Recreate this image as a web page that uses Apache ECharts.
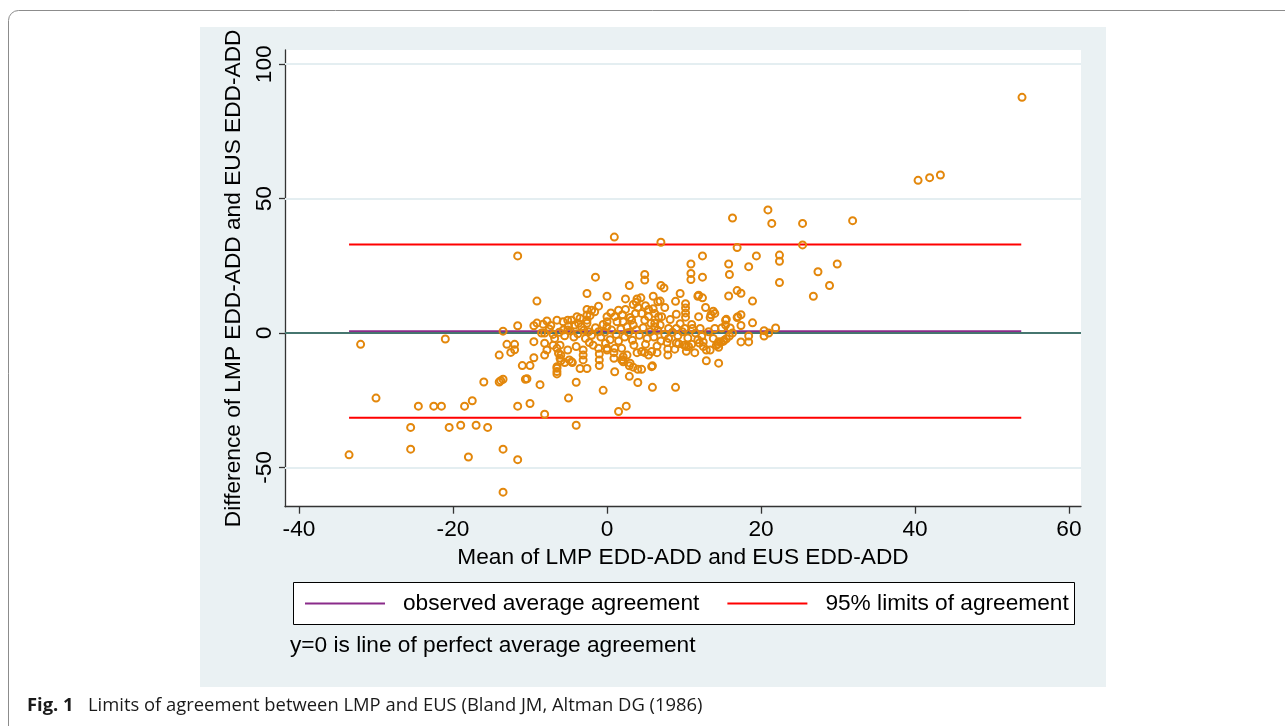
<!DOCTYPE html>
<html>
<head>
<meta charset="utf-8">
<script src="https://cdn.jsdelivr.net/npm/echarts@6/dist/echarts.min.js"></script>
<style>
html,body{margin:0;padding:0;background:#fff;}
#chart{width:1285px;height:726px;}
</style>
</head>
<body>
<div id="chart"></div>
<script>
// ---- data ----
const xTicks = [-40, -20, 0, 20, 40, 60];
const yTicks = [-50, 0, 50, 100];
const yGridValues = [-50, 50, 100];
const xTitle = 'Mean of LMP EDD-ADD and EUS EDD-ADD';
const yTitle = 'Difference of LMP EDD-ADD and EUS EDD-ADD';
const legendNames = ['observed average agreement', '95% limits of agreement'];
const noteText = 'y=0 is line of perfect average agreement';
const captionBold = 'Fig. 1';
const captionText = 'Limits of agreement between LMP and EUS (Bland JM, Altman DG (1986)';

const meanDiff = 0.7;
const upperLoA = 32.9;
const lowerLoA = -31.5;
const lineXRange = [-33.5, 53.8];

// mean of the two measurements (x) and their difference (y)
const meanVals = [
 -33.5,-32.0,-30.0,-25.5,-25.5,-24.5,-22.5,-21.5,-21.0,-20.5,-19.0,-18.5,-18.0,-17.5,-17.0,-16.0,-15.5,
 -14.0,-14.0,-13.8,-13.5,-13.5,-13.5,-13.5,-13.0,-12.0,-12.5,-12.0,-11.6,-11.6,-11.6,-11.6,-11.0,-10.0,
 -10.6,-10.4,-10.0,-9.5,-9.1,-9.5,-9.5,-9.1,-8.7,-8.1,-4.0,1.5,2.5,-0.5,5.9,8.9,-5.0,-4.0,2.9,-3.5,-2.6,
 -6.5,-6.5,-6.0,-6.0,-5.5,-4.5,-1.0,-1.0,-1.0,1.9,2.9,3.4,4.0,4.5,5.9,1.0,3.9,4.9,6.5,7.9,7.9,11.4,12.9,
 14.5,4.0,9.0,10.0,10.6,11.0,12.0,12.5,0.0,-3.1,-3.1,-3.1,-7.8,-8.1,-8.1,-7.0,0.9,0.9,2.6,2.1,
 0.95,7.0,12.4,10.9,10.9,10.9,4.9,4.9,-1.5,12.4,2.9,7.0,7.4,-2.6,0.0,2.4,3.9,4.4,3.4,3.8,6.0,6.9,9.5,8.9,
 11.8,12.4,10.2,10.2,10.2,10.2,15.8,15.8,16.3,20.9,21.4,25.4,31.9,25.4,16.9,19.4,22.4,22.4,18.4,29.9,27.4,
 15.9,22.4,28.9,26.8,16.9,17.4,18.9,13.8,14.0,13.5,13.4,17.4,16.9,18.9,17.4,15.5,14.9,16.0,21.9,20.4,21.0,
 20.4,18.4,18.4,17.4,16.3,15.9,15.5,15.2,14.8,14.4,14.2,12.5,12.9,14.5,14.5,40.4,41.9,43.3,53.9,11.9,11.9,
 15.4,15.4,17.0,8.0,9.0,10.1,11.1,12.1,6.2,6.7,7.1,6.2,6.9,14.0,2.4,3.7,4.5,5.4,6.6,-2.6,-2.6,-2.6,-2.6,
 -2.0,-1.1,-1.6,0.0,0.0,0.0,1.0,1.3,-3.9,-4.6,-5.1,-5.7,-6.5,-4.2,-3.7,-3.3,2.1,3.2,3.4,2.6,4.9,5.7,5.4,
 6.2,-5.7,-5.1,-2.4,-1.1,0.6,-6.8,-6.1,-6.5,-6.3,-6.1,-6.5,-6.5,-5.1,-4.9,-4.6,-1.1,-1.8,0.0,1.0,1.9,2.1,
 2.1,3.0,4.5,5.8,5.4,5.8,
 -8.5,-7.5,-7.0,-6.2,-5.5,-4.8,-4.3,-3.8,-3.0,-2.8,-2.0,-1.5,-0.8,-0.3,0.4,1.2,1.8,2.3,2.8,3.3,3.8,4.2,
 4.7,5.2,5.6,6.1,6.6,7.0,7.5,8.0,8.5,9.2,9.8,10.5,11.5,12.3,13.2,13.8,-7.8,-8.3,-5.0,-3.5,-2.2,-0.5,0.5,
 1.5,2.0,3.0,4.0,5.0,6.0,7.5,8.2,9.0,9.5,11.0,12.8,-7.3,-4.0,-2.3,-0.2,1.5,3.5,5.0,6.5,7.8,8.8,10.3,11.8,
 -8.1,9.3,10.3,13.4,15.1
];
const diffVals = [
 -45.3,-4.2,-24.2,-35.1,-43.2,-27.2,-27.2,-27.2,-2.2,-35.1,-34.3,-27.2,-46.1,-25.2,-34.3,-18.2,-35.1,
 -8.2,-18.2,-17.7,-17.2,-43.2,-59.2,0.7,-4.2,-4.2,-7.2,-6.2,28.7,2.7,-27.2,-47.1,-12.1,-12.1,
 -17.2,-17.0,-26.2,2.7,3.7,-3.2,-9.2,11.9,-19.2,-30.2,-34.3,-29.2,-27.2,-21.3,-20.2,-20.2,-24.2,-18.3,-16.1,-13.2,-13.2,
 -13.1,-15.2,-8.2,-10.3,-11.0,-11.0,-7.8,-10.0,-12.1,-10.0,-12.2,-12.7,-13.5,-13.5,-12.2,-14.4,-7.3,-7.3,-7.3,-5.9,-8.2,-7.3,-10.3,
 -11.2,-18.4,-3.7,-4.5,-5.0,-4.2,-3.7,-5.0,-6.3,-10.0,-8.2,-6.3,-6.3,-8.2,-3.8,-4.5,-7.3,-9.4,-8.2,-10.0,
 35.7,33.8,28.7,25.7,22.2,19.9,21.8,19.7,20.8,20.8,17.7,17.7,16.8,14.7,13.7,12.7,12.7,13.1,10.6,11.5,13.7,11.9,14.7,11.8,
 13.7,13.1,10.9,9.3,7.5,5.9,25.7,13.8,42.8,45.8,40.8,40.8,41.8,32.8,31.8,28.7,29.0,26.7,24.7,25.7,22.8,
 21.8,18.8,17.7,13.7,15.8,14.8,11.9,8.1,7.3,6.8,5.8,6.8,5.8,3.8,2.8,5.1,1.9,1.9,1.9,0.9,0.0,
 -1.1,-1.1,-3.3,-3.3,0.0,-1.1,-2.1,-2.7,-3.3,-4.1,-4.6,-3.3,-6.3,-5.3,-3.2,56.8,57.8,58.8,87.7,14.1,6.1,
 4.8,3.0,6.1,1.7,1.7,1.7,1.7,1.7,7.3,6.1,6.1,3.6,3.0,1.7,8.8,7.3,7.3,8.8,11.6,8.8,6.7,4.8,3.6,
 8.5,10.0,7.9,6.1,4.2,2.3,6.1,4.2,6.1,4.8,4.8,4.2,4.8,3.0,3.6,2.3,4.2,4.8,3.0,2.3,4.8,3.6,6.1,
 2.3,1.1,1.1,0.5,0.5,1.1,-2.0,-4.5,-5.7,-7.5,-9.4,-12.5,-14.3,-6.3,-10.0,-10.7,-5.7,-4.5,-5.7,-5.7,-5.7,-8.8,
 -10.7,-11.2,-6.9,-6.9,-8.2,-12.5,
 0.0,1.5,-0.5,0.3,-1.0,0.8,-1.5,-0.3,1.0,-2.0,-0.8,2.0,-1.5,0.3,-2.5,-0.5,1.5,-1.5,0.2,-2.7,1.2,-0.8,
 2.0,-2.0,0.5,-1.5,1.0,-3.0,-0.5,-2.0,0.3,-1.0,0.5,-1.8,0.0,-1.2,0.5,-2.0,4.5,3.3,2.7,5.5,6.5,3.2,7.5,
 8.5,6.8,5.8,9.5,10.2,9.0,9.5,5.0,7.0,3.5,3.2,9.5,2.8,-5.0,-3.5,-3.8,-3.0,-4.5,-4.2,-4.8,-3.5,-6.0,-6.8,-2.5,
 0.0,-4.0,-5.0,-6.3,-3.1
];

// ---- chart ----
const FONT = '"Liberation Sans", Arial, sans-serif';
const points = meanVals.map((m, i) => [m, diffVals[i]]);
const txt = { color: '#000', fontFamily: FONT, fontSize: 22.7 };

const chart = echarts.init(document.getElementById('chart'), null, { renderer: 'canvas' });
chart.setOption({
  animation: false,
  backgroundColor: '#fff',
  graphic: [
    { type: 'rect', z: -20, shape: { x: 8.5, y: 10.5, width: 1400, height: 800, r: 10 },
      style: { fill: '#fff', stroke: '#8c8c8c', lineWidth: 1 } },
    { type: 'rect', z: -10, shape: { x: 200, y: 27, width: 906, height: 660 },
      style: { fill: '#eaf1f3' } },
    { type: 'rect', z: 1, shape: { x: 293.5, y: 582.5, width: 781, height: 42 },
      style: { fill: '#fff', stroke: '#000', lineWidth: 1 } },
    { type: 'text', z: 5, left: 290, top: 634,
      style: { text: noteText, fill: '#000', font: '22.7px ' + FONT } },
    { type: 'text', z: 5, left: 27, top: 697,
      style: { text: captionBold, fill: '#1a1a1a', font: 'bold 18.4px "Open Sans", sans-serif' } },
    { type: 'text', z: 5, left: 88, top: 697,
      style: { text: captionText, fill: '#1a1a1a', font: '18.4px "Open Sans", sans-serif' } }
  ],
  grid: { left: 285, top: 50, width: 796, height: 456.7, show: true, backgroundColor: '#fff', borderWidth: 0 },
  legend: {
    left: 305, top: 592, z: 10, padding: 0, icon: 'rect', itemWidth: 80, itemHeight: 2, itemGap: 28,
    selectedMode: false, data: legendNames,
    textStyle: Object.assign({ padding: [0, 0, 0, 13] }, txt)
  },
  xAxis: {
    type: 'value', min: -41.82, max: 61.56,
    name: xTitle, nameLocation: 'middle', nameGap: 38, nameTextStyle: txt,
    axisLine: { show: true, onZero: false, lineStyle: { color: '#333', width: 1.3 } },
    axisTick: { show: true, length: 7, customValues: xTicks, lineStyle: { color: '#333', width: 1.3 } },
    axisLabel: Object.assign({ customValues: xTicks, margin: 12 }, txt),
    splitLine: { show: false }
  },
  yAxis: {
    type: 'value', min: -64.6, max: 105.3,
    name: yTitle, nameLocation: 'middle', nameGap: 36, nameRotate: 90, nameTextStyle: txt,
    axisLine: { show: true, onZero: false, lineStyle: { color: '#333', width: 1.3 } },
    axisTick: { show: true, length: 6, customValues: yTicks, lineStyle: { color: '#333', width: 1.3 } },
    axisLabel: Object.assign({ customValues: yTicks, margin: 9, rotate: 90 }, txt),
    splitLine: { show: false }
  },
  series: [
    {
      type: 'line', name: 'grid', data: [], silent: true, z: 1,
      markLine: {
        silent: true, symbol: 'none', label: { show: false }, animation: false,
        lineStyle: { color: '#e4eef1', width: 2, type: 'solid' },
        data: yGridValues.map(v => ({ yAxis: v }))
      }
    },
    {
      type: 'line', name: 'zero', data: [], silent: true, z: 2,
      markLine: {
        silent: true, symbol: 'none', label: { show: false }, animation: false,
        lineStyle: { color: '#46766f', width: 2, type: 'solid' },
        data: [{ yAxis: 0 }]
      }
    },
    {
      type: 'line', name: legendNames[0], z: 3, symbol: 'none', silent: true,
      color: '#8a2b8a', lineStyle: { color: '#8a2b8a', width: 2 },
      data: lineXRange.map(x => [x, meanDiff])
    },
    {
      type: 'line', name: legendNames[1], z: 3, symbol: 'none', silent: true,
      color: '#ff0000', lineStyle: { color: '#ff0000', width: 2 },
      data: lineXRange.map(x => [x, upperLoA])
    },
    {
      type: 'line', name: legendNames[1], z: 3, symbol: 'none', silent: true,
      color: '#ff0000', lineStyle: { color: '#ff0000', width: 2 },
      data: lineXRange.map(x => [x, lowerLoA])
    },
    {
      type: 'scatter', name: 'points', z: 5, symbol: 'circle', symbolSize: 7,
      itemStyle: { color: 'rgba(0,0,0,0)', borderColor: '#e3870b', borderWidth: 2, opacity: 1 },
      data: points
    }
  ]
});
</script>
</body>
</html>
